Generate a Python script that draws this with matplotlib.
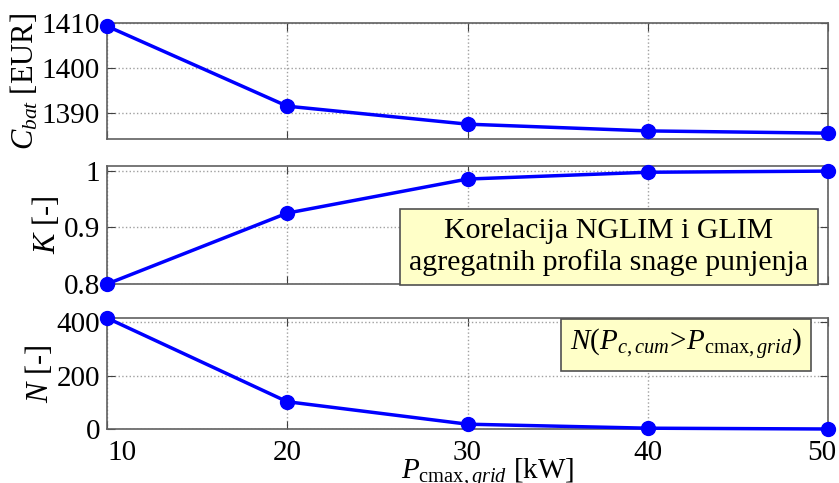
import matplotlib
matplotlib.use('Agg')
import matplotlib.pyplot as plt
import matplotlib.transforms as mtransforms

# data
p_grid = [10, 20, 30, 40, 50]
c_bat = [1409.3, 1391.5, 1387.5, 1386.0, 1385.5]
k_corr = [0.800, 0.925, 0.985, 0.997, 0.999]
n_over = [415, 102, 18, 3, 0]

plt.rcParams['font.family'] = ['Liberation Serif', 'DejaVu Serif']
plt.rcParams['mathtext.fontset'] = 'custom'
plt.rcParams['mathtext.rm'] = 'Liberation Serif'
plt.rcParams['mathtext.it'] = 'Liberation Serif:italic'
plt.rcParams['mathtext.bf'] = 'Liberation Serif:bold'

W, H = 839, 483
fig = plt.figure(figsize=(W / 100, H / 100), dpi=100)


def px_axes(x0, y0, x1, y1):
  return fig.add_axes([x0 / W, 1 - y1 / H, (x1 - x0) / W, (y1 - y0) / H])


def style(ax):
  ax.grid(True, linestyle=':', color='#a0a0a0', linewidth=1)
  ax.set_axisbelow(True)
  ax.tick_params(direction='in', length=6, labelsize=21, top=True, right=True,
                 color='#404040')
  ax.tick_params(axis='y', pad=5)
  ax.tick_params(axis='x', pad=8)
  for s in ax.spines.values():
    s.set_color('#606060')
    s.set_linewidth(1.2)
  ax.set_xlim(10, 50)
  ax.set_xticks(p_grid)


line_kw = dict(color='#0000ff', linewidth=2.5, marker='o', markersize=10,
               markerfacecolor='#0000ff', markeredgecolor='#0000ff',
               clip_on=False, zorder=5)

ax1 = px_axes(107, 23, 828, 139)
style(ax1)
ax1.plot(p_grid, c_bat, **line_kw)
ax1.set_ylim(1384.2, 1410)
ax1.set_yticks([1390, 1400, 1410])
ax1.set_xticklabels([])
ax1.set_ylabel(r'$C_{bat}$ [EUR]', fontsize=22, labelpad=1)

ax2 = px_axes(107, 166, 828, 284)
style(ax2)
ax2.plot(p_grid, k_corr, **line_kw)
ax2.set_ylim(0.8, 1.008)
ax2.set_yticks([0.8, 0.9, 1.0])
ax2.set_yticklabels(['0.8', '0.9', '1'])
ax2.set_xticklabels([])
ax2.set_ylabel(r'$K$ [-]', fontsize=22, labelpad=1)

ax3 = px_axes(107, 318, 828, 429)
style(ax3)
ax3.plot(p_grid, n_over, **line_kw)
ax3.set_ylim(0, 415)
ax3.set_yticks([0, 200, 400])
ax3.set_ylabel(r'$N$ [-]', fontsize=22, labelpad=1)
ax3.set_xlabel(r'$P_{\mathrm{cmax},grid}$ [kW]', fontsize=21)
ax3.xaxis.set_label_coords(0.528, -0.24)
xl = ax3.get_xticklabels()
xl[0].set_ha('left')
shift = mtransforms.ScaledTranslation(-6 / 100, 0, fig.dpi_scale_trans)
xl[-1].set_transform(xl[-1].get_transform() + shift)

box_kw = dict(boxstyle='square,pad=0.3', facecolor='#ffffc8', edgecolor='#505050',
              linewidth=1.2)
fig.text(609 / W, 1 - 247 / H,
         'Korelacija NGLIM i GLIM\nagregatnih profila snage punjenja',
         ha='center', va='center', fontsize=21.5, linespacing=1.2, bbox=box_kw,
         zorder=10)
fig.text(686 / W, 1 - 345 / H, r'$N(P_{c,cum}\!>\!P_{\mathrm{cmax},grid})$',
         ha='center', va='center', fontsize=21, bbox=box_kw, zorder=10)

fig.savefig('out.png', dpi=100)
